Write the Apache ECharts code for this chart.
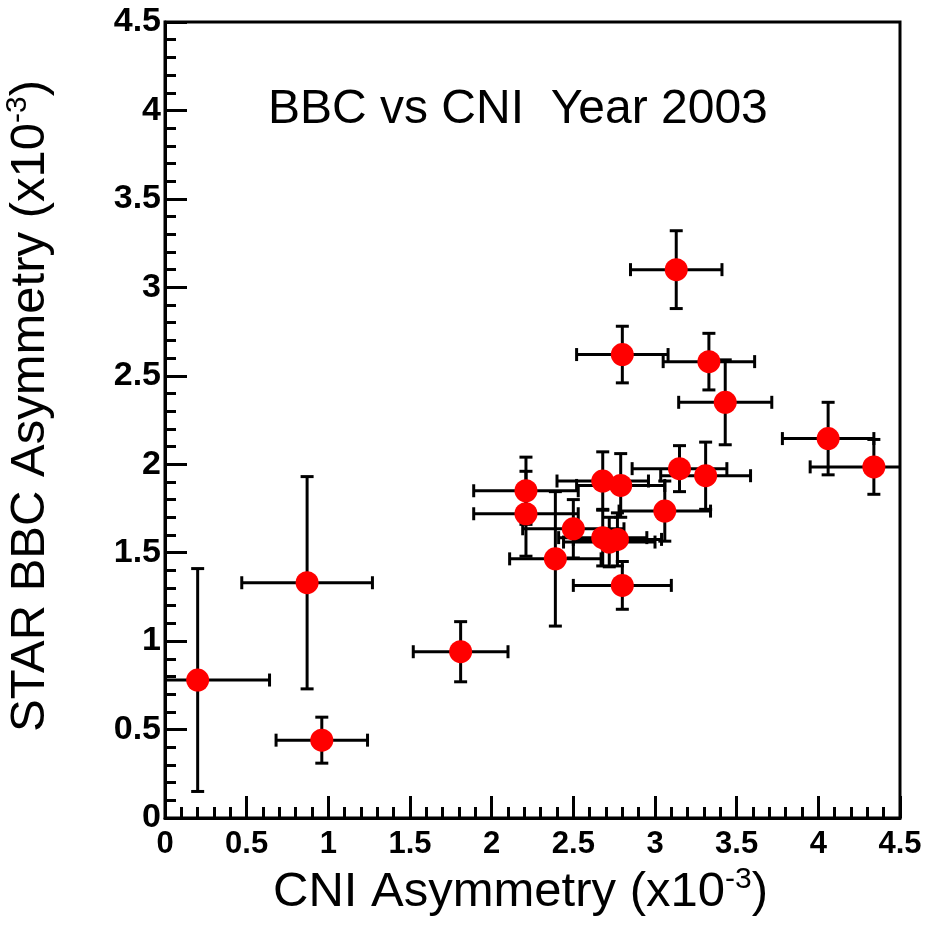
<!DOCTYPE html>
<html><head><meta charset="utf-8">
<script src="https://cdn.jsdelivr.net/npm/echarts@6/dist/echarts.min.js"></script>
<style>html,body{margin:0;padding:0;background:#fff}#c{width:928px;height:930px}</style>
</head><body><div id="c"></div>
<script>
// CNI asymmetry (x10^-3)
const xVals = [0.20, 0.87, 0.96, 1.81, 2.21, 2.21, 2.39, 2.50, 2.68, 2.79, 2.68, 2.72, 2.77, 3.06, 3.15, 3.31, 2.80, 3.13, 2.80, 3.33, 3.43, 4.06, 4.34];
// STAR BBC asymmetry (x10^-3)
const yVals = [0.78, 1.33, 0.44, 0.94, 1.85, 1.72, 1.465, 1.635, 1.905, 1.88, 1.585, 1.56, 1.575, 1.735, 1.975, 1.935, 1.315, 3.10, 2.62, 2.58, 2.35, 2.145, 1.985];
const xErr = [0.44, 0.40, 0.28, 0.29, 0.32, 0.32, 0.28, 0.31, 0.28, 0.27, 0.27, 0.28, 0.27, 0.28, 0.29, 0.275, 0.30, 0.28, 0.28, 0.28, 0.285, 0.28, 0.39];
const yErr = [0.63, 0.60, 0.13, 0.17, 0.19, 0.24, 0.38, 0.165, 0.165, 0.18, 0.16, 0.14, 0.15, 0.17, 0.13, 0.19, 0.135, 0.22, 0.16, 0.16, 0.24, 0.205, 0.155];
const xTicks = ['0','0.5','1','1.5','2','2.5','3','3.5','4','4.5'];
const yTicks = ['0','0.5','1','1.5','2','2.5','3','3.5','4','4.5'];
const titleText = 'BBC vs CNI  Year 2003';
const xName = 'CNI Asymmetry (x10';
const yName = 'STAR BBC Asymmetry (x10';

const AX = {min: 0, max: 4.5, step: 0.5};
const points = xVals.map((x, i) => [x, yVals[i], xErr[i], yErr[i]]);
const FONT = '"Liberation Sans", Arial, Helvetica, sans-serif';

function errRender(params, api) {
  const x = api.value(0), y = api.value(1), ex = api.value(2), ey = api.value(3);
  const xl = Math.max(AX.min, x - ex), xr = Math.min(AX.max, x + ex);
  const yb = Math.max(AX.min, y - ey), yt = Math.min(AX.max, y + ey);
  const pl = api.coord([xl, y]), pr = api.coord([xr, y]);
  const pb = api.coord([x, yb]), pt = api.coord([x, yt]);
  const style = {stroke: '#000', lineWidth: 3};
  const cap = 6.5;
  const ch = [
    {type: 'line', shape: {x1: pl[0], y1: pl[1], x2: pr[0], y2: pr[1]}, style},
    {type: 'line', shape: {x1: pt[0], y1: pt[1], x2: pb[0], y2: pb[1]}, style}
  ];
  if (x - ex >= AX.min) ch.push({type: 'line', shape: {x1: pl[0], y1: pl[1] - cap, x2: pl[0], y2: pl[1] + cap}, style});
  if (x + ex <= AX.max) ch.push({type: 'line', shape: {x1: pr[0], y1: pr[1] - cap, x2: pr[0], y2: pr[1] + cap}, style});
  if (y - ey >= AX.min) ch.push({type: 'line', shape: {x1: pb[0] - cap, y1: pb[1], x2: pb[0] + cap, y2: pb[1]}, style});
  if (y + ey <= AX.max) ch.push({type: 'line', shape: {x1: pt[0] - cap, y1: pt[1], x2: pt[0] + cap, y2: pt[1]}, style});
  return {type: 'group', children: ch};
}

function axisCommon(ticks, labelSize, labelMargin) {
  return {
    type: 'value', min: AX.min, max: AX.max, interval: AX.step,
    axisLine: {show: true, lineStyle: {color: '#000', width: 3}},
    axisTick: {show: true, inside: true, length: 22, lineStyle: {color: '#000', width: 3}},
    minorTick: {show: true, splitNumber: 5, length: 11, lineStyle: {color: '#000', width: 3}},
    splitLine: {show: false},
    axisLabel: {
      color: '#000', fontFamily: FONT, fontWeight: 'bold', fontSize: labelSize, margin: labelMargin,
      formatter: (v) => ticks[Math.round(v / AX.step)]
    },
    nameLocation: 'middle'
  };
}

function nameStyle(pad) {
  return {
    fontFamily: FONT, color: '#000', padding: pad,
    rich: {
      a: {fontFamily: FONT, fontSize: 49, color: '#000'},
      s: {fontFamily: FONT, fontSize: 30, color: '#000', padding: [0, 0, 24, 0]}
    }
  };
}

const xAxis = Object.assign(axisCommon(xTicks, 31, 11), {
  name: '{a|' + xName + '}{s|-3}{a|)}', nameGap: 47, nameTextStyle: nameStyle([0, 24, 0, 0])
});
const yAxis = Object.assign(axisCommon(yTicks, 34, 4), {
  name: '{a|' + yName + '}{s|-3}{a|)}', nameGap: 108, nameTextStyle: nameStyle([0, 0, 0, 28])
});

const chart = echarts.init(document.getElementById('c'));
chart.setOption({
  animation: false,
  backgroundColor: '#fff',
  title: {
    text: titleText, left: 263, top: 81,
    textStyle: {fontFamily: FONT, fontWeight: 'normal', fontSize: 48, color: '#000'}
  },
  grid: {left: 165, right: 28, top: 22, bottom: 112, containLabel: false, outerBoundsMode: 'none',
         show: true, borderColor: '#000', borderWidth: 3, backgroundColor: 'transparent'},
  xAxis, yAxis,
  series: [
    {type: 'custom', renderItem: errRender, data: points, encode: {x: 0, y: 1}, z: 2, silent: true},
    {type: 'scatter', data: points.map(p => [p[0], p[1]]), symbol: 'circle', symbolSize: 23,
     itemStyle: {color: '#ff0000', opacity: 1}, z: 3, silent: true}
  ]
});
</script>
</body></html>
